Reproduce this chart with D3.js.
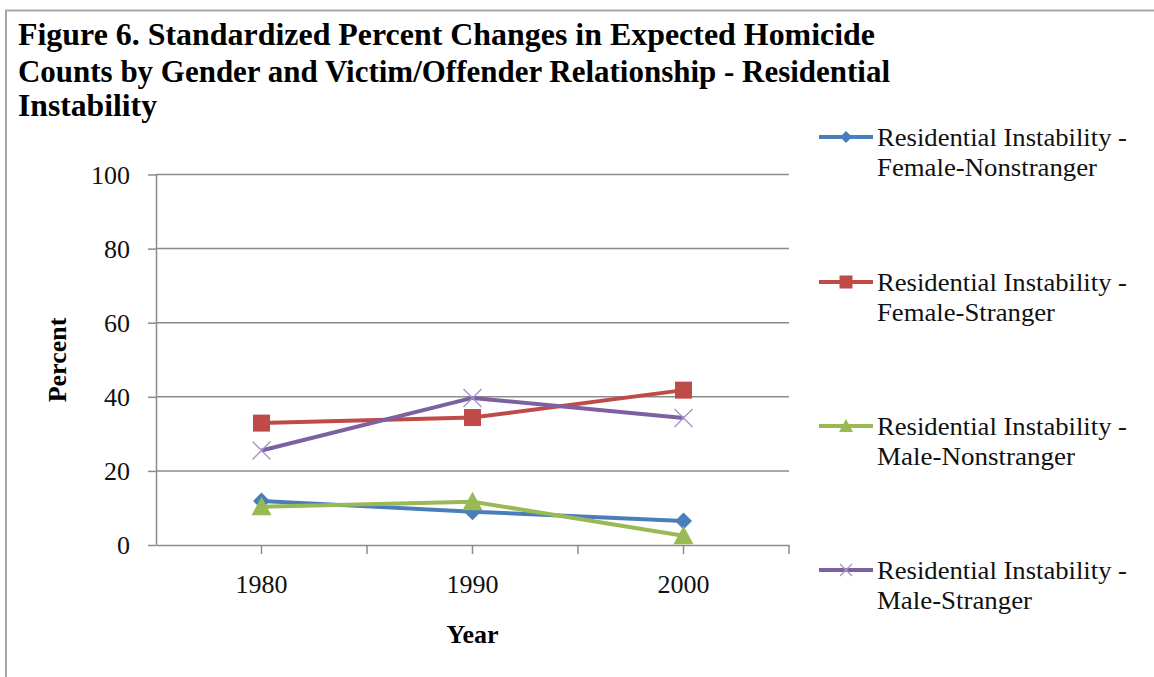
<!DOCTYPE html>
<html>
<head>
<meta charset="utf-8">
<script src="https://cdn.jsdelivr.net/npm/d3@7"></script>
<style>
  html, body { margin: 0; padding: 0; background: #fff; }
  svg { display: block; font-family: "Liberation Serif", "Times New Roman", serif; }
</style>
</head>
<body>
<svg id="chart" width="1154" height="677"></svg>
<script>
// Census years on the category axis
const years = ["1980", "1990", "2000"];

// Standardized percent change for each gender / relationship group
const femaleNonstranger = [11.9, 9.0, 6.5];
const femaleStranger    = [32.9, 34.4, 41.8];
const maleNonstranger   = [10.3, 11.7, 2.5];
const maleStranger      = [25.5, 39.7, 34.3];

const seriesNames = [
  ["Residential Instability -", "Female-Nonstranger"],
  ["Residential Instability -", "Female-Stranger"],
  ["Residential Instability -", "Male-Nonstranger"],
  ["Residential Instability -", "Male-Stranger"]
];

const yTicks = [0, 20, 40, 60, 80, 100];

const titleLines = [
  "Figure 6. Standardized Percent Changes in Expected Homicide",
  "Counts by Gender and Victim/Offender Relationship - Residential",
  "Instability"
];

const series = [
  { values: femaleNonstranger, color: "#4a7ebb", marker: "diamond", name: seriesNames[0] },
  { values: femaleStranger,    color: "#be4b48", marker: "square",  name: seriesNames[1] },
  { values: maleNonstranger,   color: "#98b954", marker: "triangle", name: seriesNames[2] },
  { values: maleStranger,      color: "#7d60a0", marker: "cross",   name: seriesNames[3] }
];

const svg = d3.select("#chart");

// outer frame of the figure
svg.append("rect")
  .attr("x", 6).attr("y", 10.5)
  .attr("width", 1200).attr("height", 700)
  .attr("fill", "none").attr("stroke", "#a6a6a6").attr("stroke-width", 2);

// helper: set a text element to an exact width
function fitWidth(sel, w) {
  sel.attr("textLength", w).attr("lengthAdjust", "spacingAndGlyphs");
}

// title
const titleY = [45, 82, 116];
const titleW = [857, 872, 139];
titleLines.forEach((t, i) => {
  svg.append("text")
    .attr("x", 18).attr("y", titleY[i])
    .attr("font-size", 31).attr("font-weight", "bold")
    .attr("fill", "#000")
    .text(t)
    .call(fitWidth, titleW[i]);
});

const plot = { left: 156, right: 789, top: 174.5, bottom: 545 };

const x = d3.scaleBand().domain(years).range([plot.left, plot.right]).padding(0);
const y = d3.scaleLinear().domain([0, 100]).range([plot.bottom, plot.top]);
const cx = d => x(d) + x.bandwidth() / 2;

const gridColor = "#8c8c8c";

// horizontal gridlines
svg.append("g")
  .selectAll("line")
  .data(yTicks.filter(v => v > 0))
  .join("line")
  .attr("x1", plot.left).attr("x2", plot.right)
  .attr("y1", d => y(d)).attr("y2", d => y(d))
  .attr("stroke", gridColor).attr("stroke-width", 1.5);

// y axis
const yAxis = svg.append("g")
  .attr("transform", `translate(${plot.left},0)`)
  .call(d3.axisLeft(y).tickValues(yTicks).tickSize(8).tickPadding(18).tickSizeOuter(0));
yAxis.select(".domain").attr("stroke", gridColor).attr("stroke-width", 1.5);
yAxis.selectAll(".tick line").attr("stroke", gridColor).attr("stroke-width", 1.5);
yAxis.selectAll(".tick text")
  .attr("font-size", 26).attr("font-family", "Liberation Serif, Times New Roman, serif")
  .attr("fill", "#111").attr("dy", "0.33em");

// x axis
const xAxis = svg.append("g")
  .attr("transform", `translate(0,${plot.bottom})`)
  .call(d3.axisBottom(x).tickSize(9).tickPadding(21).tickSizeOuter(0));
xAxis.select(".domain").attr("stroke", gridColor).attr("stroke-width", 1.5);
xAxis.selectAll(".tick line").attr("stroke", gridColor).attr("stroke-width", 1.5);
xAxis.selectAll(".tick text")
  .attr("font-size", 26).attr("font-family", "Liberation Serif, Times New Roman, serif")
  .attr("fill", "#111");
// tick marks on category boundaries
const bounds = years.map(d => x(d)).concat([plot.right]);
xAxis.append("g").selectAll("line")
  .data(bounds.slice(1))
  .join("line")
  .attr("x1", d => d).attr("x2", d => d)
  .attr("y1", 0).attr("y2", 9)
  .attr("stroke", gridColor).attr("stroke-width", 1.5);

// axis titles
svg.append("text")
  .attr("transform", `translate(66,360) rotate(-90)`)
  .attr("text-anchor", "middle")
  .attr("font-size", 26).attr("font-weight", "bold")
  .text("Percent");

svg.append("text")
  .attr("x", cx("1990")).attr("y", 643)
  .attr("text-anchor", "middle")
  .attr("font-size", 26).attr("font-weight", "bold")
  .text("Year");

// marker drawing
function drawMarker(g, type, color, px, py, s) {
  if (type === "diamond") {
    g.append("path")
      .attr("d", `M${px},${py - s}L${px + s},${py}L${px},${py + s}L${px - s},${py}Z`)
      .attr("fill", color);
  } else if (type === "square") {
    g.append("rect")
      .attr("x", px - s).attr("y", py - s)
      .attr("width", 2 * s).attr("height", 2 * s)
      .attr("fill", color);
  } else if (type === "triangle") {
    g.append("path")
      .attr("d", `M${px},${py - s}L${px + s},${py + s * 0.85}L${px - s},${py + s * 0.85}Z`)
      .attr("fill", color);
  } else if (type === "cross") {
    g.append("path")
      .attr("d", `M${px - s},${py - s}L${px + s},${py + s}M${px - s},${py + s}L${px + s},${py - s}`)
      .attr("stroke", "#a595c6").attr("stroke-width", 1.4).attr("fill", "none");
  }
}

const markerSize = { diamond: 8.5, square: 8.5, triangle: 10, cross: 9 };

const line = d3.line().x((d, i) => cx(years[i])).y(d => y(d));

series.forEach(s => {
  const g = svg.append("g");
  g.append("path")
    .attr("d", line(s.values))
    .attr("fill", "none")
    .attr("stroke", s.color)
    .attr("stroke-width", 4)
    .attr("stroke-linejoin", "round");
  s.values.forEach((v, i) => drawMarker(g, s.marker, s.color, cx(years[i]), y(v), markerSize[s.marker]));
});

// legend
const legendY = [137, 282, 426, 570];
const line2W = [220, 178, 198, 155];
series.forEach((s, i) => {
  const g = svg.append("g");
  const ly = legendY[i];
  g.append("line")
    .attr("x1", 819).attr("x2", 873)
    .attr("y1", ly).attr("y2", ly)
    .attr("stroke", s.color).attr("stroke-width", 4);
  const ms = { diamond: 6, square: 6.5, triangle: 7, cross: 6 }[s.marker];
  drawMarker(g, s.marker, s.color, 846, ly, ms);
  g.append("text")
    .attr("x", 877).attr("y", ly + 9)
    .attr("font-size", 25).attr("fill", "#111")
    .text(s.name[0])
    .call(fitWidth, 250);
  g.append("text")
    .attr("x", 877).attr("y", ly + 39)
    .attr("font-size", 25).attr("fill", "#111")
    .text(s.name[1])
    .call(fitWidth, line2W[i]);
});
</script>
</body>
</html>
